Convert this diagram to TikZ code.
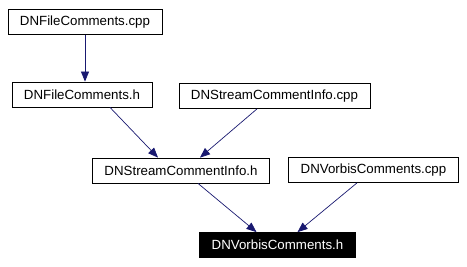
\documentclass[tikz,border=0pt]{standalone}
\usepackage{fontspec}
\setmainfont{Liberation Sans}
\usetikzlibrary{arrows.meta}
\definecolor{edgeblue}{HTML}{191970}
\begin{document}
\begin{tikzpicture}[x=1pt,y=-1pt,
	file/.style={draw,rectangle,line width=0.8pt,inner xsep=12pt,minimum height=25pt,font=\fontsize{13.3}{16}\selectfont},
	current/.style={file,fill=black,text=white},
	dep/.style={draw=edgeblue,line width=0.7pt,-{Triangle[length=10pt,width=8pt]},color=edgeblue}]
	\useasboundingbox (0,0) rectangle (467,266);
	% include graph
	\node[file] (fcpp) at (85,22) {DNFileComments.cpp};
	\node[file] (fh) at (82,94.5) {DNFileComments.h};
	\node[file] (scpp) at (274.5,96) {DNStreamCommentInfo.cpp};
	\node[file] (sh) at (181,170.5) {DNStreamCommentInfo.h};
	\node[file] (vcpp) at (373.5,170) {DNVorbisComments.cpp};
	\node[current] (vh) at (277.5,245) {DNVorbisComments.h};
	\draw[dep] (fcpp.south) -- ([xshift=3pt]fh.north);
	\draw[dep] ([xshift=28pt]fh.south) -- ([xshift=-23pt]sh.north);
	\draw[dep] ([xshift=-17.5pt]scpp.south) -- ([xshift=19pt]sh.north);
	\draw[dep] ([xshift=17pt]sh.south) -- ([xshift=-21pt]vh.north);
	\draw[dep] ([xshift=-16.5pt]vcpp.south) -- ([xshift=20pt]vh.north);
\end{tikzpicture}
\end{document}
